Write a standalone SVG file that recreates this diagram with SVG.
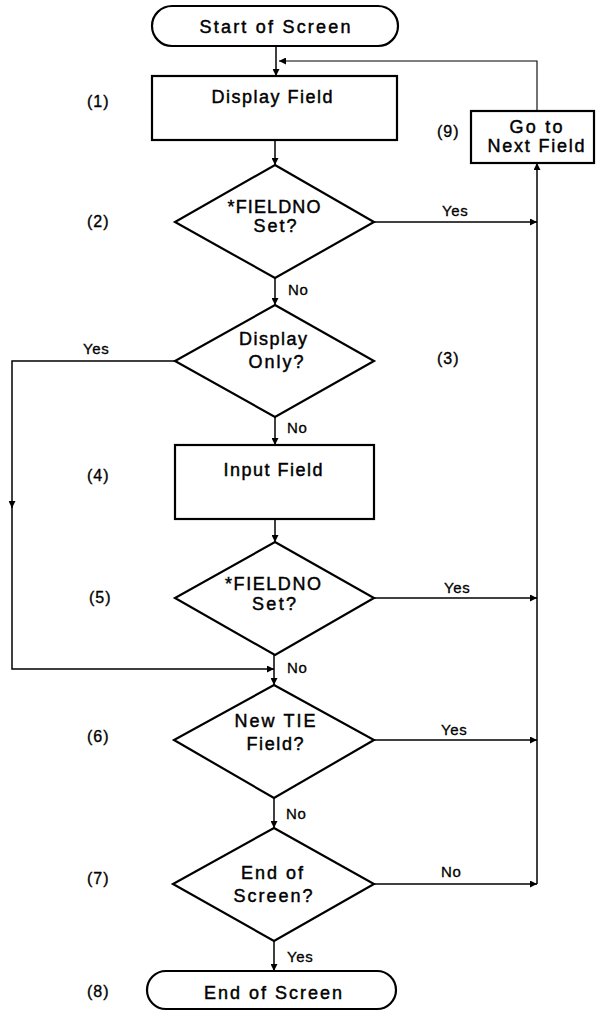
<svg xmlns="http://www.w3.org/2000/svg" width="596" height="1013" viewBox="0 0 596 1013">
<style>
.shape{fill:#fff;stroke:#000;stroke-width:2.2}
.t{font-family:"Liberation Sans",Arial,sans-serif;font-size:18px;fill:#000;stroke:#000;stroke-width:0.45;text-anchor:middle}
.lbl{font-family:"Liberation Sans",Arial,sans-serif;font-size:15px;fill:#000;stroke:#000;stroke-width:0.3;letter-spacing:0.6px}
.num{font-family:"Liberation Sans",Arial,sans-serif;font-size:16px;fill:#000;stroke:#000;stroke-width:0.35;letter-spacing:1px}
.c{fill:none;stroke:#000;stroke-width:1.5}
.thin{fill:none;stroke:#000;stroke-width:1.1}
</style>
<defs>
<marker id="ah" viewBox="0 0 10 10" refX="10" refY="5" markerWidth="9" markerHeight="7" markerUnits="userSpaceOnUse" orient="auto">
<path d="M0,0 L10,5 L0,10 z" fill="#000"/>
</marker>
</defs>
<g id="connectors">
<line class="c" x1="276" y1="46" x2="276" y2="76" marker-end="url(#ah)"/>
<polyline class="thin" points="537,111 537,61 279,61" marker-end="url(#ah)"/>
<line class="c" x1="275" y1="140" x2="275" y2="165" marker-end="url(#ah)"/>
<line class="c" x1="374" y1="222" x2="537" y2="222" marker-end="url(#ah)"/>
<line class="c" x1="275" y1="278" x2="275" y2="305" marker-end="url(#ah)"/>
<polyline class="c" points="175,361 12,361 12,508" marker-end="url(#ah)"/>
<polyline class="c" points="12,505 12,669 274,669" marker-end="url(#ah)"/>
<line class="c" x1="275" y1="417" x2="275" y2="445" marker-end="url(#ah)"/>
<line class="c" x1="275" y1="519" x2="275" y2="542" marker-end="url(#ah)"/>
<line class="c" x1="374" y1="598" x2="537" y2="598" marker-end="url(#ah)"/>
<line class="c" x1="274" y1="655" x2="274" y2="685" marker-end="url(#ah)"/>
<line class="c" x1="374" y1="740" x2="537" y2="740" marker-end="url(#ah)"/>
<line class="c" x1="274" y1="798" x2="274" y2="828" marker-end="url(#ah)"/>
<line class="c" x1="374" y1="884" x2="537" y2="884" marker-end="url(#ah)"/>
<line class="c" x1="537" y1="884" x2="537" y2="163" marker-end="url(#ah)"/>
<line class="c" x1="274" y1="941" x2="274" y2="971" marker-end="url(#ah)"/>
<text class="lbl" x="442" y="216">Yes</text>
<text class="lbl" x="288" y="295">No</text>
<text class="lbl" x="83" y="354">Yes</text>
<text class="lbl" x="287" y="433">No</text>
<text class="lbl" x="444" y="593">Yes</text>
<text class="lbl" x="287" y="673">No</text>
<text class="lbl" x="441" y="735">Yes</text>
<text class="lbl" x="286" y="819">No</text>
<text class="lbl" x="441" y="877">No</text>
<text class="lbl" x="287" y="962">Yes</text>
</g>
<g id="start">
<rect class="shape" x="152" y="6" width="246" height="40" rx="20"/>
<text class="t" x="275" y="33" textLength="151" lengthAdjust="spacing">Start of Screen</text>
</g>
<g id="display-field">
<rect class="shape" x="152" y="76" width="245" height="64"/>
<text class="t" x="272" y="103" textLength="121" lengthAdjust="spacing">Display Field</text>
<text class="num" x="87" y="107">(1)</text>
</g>
<g id="next-field">
<rect class="shape" x="471" y="111" width="123" height="52"/>
<text class="t" x="536" y="133" textLength="53" lengthAdjust="spacing">Go to</text>
<text class="t" x="536" y="152" textLength="97" lengthAdjust="spacing">Next Field</text>
<text class="num" x="437" y="137">(9)</text>
</g>
<g id="fieldno-1">
<polygon class="shape" points="275,165 374,222 275,278 175,222"/>
<text class="t" x="274" y="213" textLength="93" lengthAdjust="spacing">*FIELDNO</text>
<text class="t" x="275" y="232" textLength="43" lengthAdjust="spacing">Set?</text>
<text class="num" x="87" y="227">(2)</text>
</g>
<g id="display-only">
<polygon class="shape" points="275,305 374,361 275,417 175,361"/>
<text class="t" x="273" y="345" textLength="68" lengthAdjust="spacing">Display</text>
<text class="t" x="276" y="368" textLength="55" lengthAdjust="spacing">Only?</text>
<text class="num" x="437" y="364">(3)</text>
</g>
<g id="input-field">
<rect class="shape" x="175" y="445" width="199" height="74"/>
<text class="t" x="273" y="476" textLength="99" lengthAdjust="spacing">Input Field</text>
<text class="num" x="87" y="481">(4)</text>
</g>
<g id="fieldno-2">
<polygon class="shape" points="275,542 374,598 275,655 175,598"/>
<text class="t" x="273" y="590" textLength="96" lengthAdjust="spacing">*FIELDNO</text>
<text class="t" x="274" y="610" textLength="44" lengthAdjust="spacing">Set?</text>
<text class="num" x="89" y="603">(5)</text>
</g>
<g id="new-tie">
<polygon class="shape" points="274,685 374,740 274,798 174,740"/>
<text class="t" x="275" y="727" textLength="81" lengthAdjust="spacing">New TIE</text>
<text class="t" x="275" y="750" textLength="57" lengthAdjust="spacing">Field?</text>
<text class="num" x="87" y="742">(6)</text>
</g>
<g id="end-check">
<polygon class="shape" points="274,828 374,884 274,941 173,884"/>
<text class="t" x="272" y="879" textLength="62" lengthAdjust="spacing">End of</text>
<text class="t" x="273" y="902" textLength="79" lengthAdjust="spacing">Screen?</text>
<text class="num" x="87" y="884">(7)</text>
</g>
<g id="end">
<rect class="shape" x="147" y="971" width="249" height="38" rx="19"/>
<text class="t" x="273" y="999" textLength="138" lengthAdjust="spacing">End of Screen</text>
<text class="num" x="87" y="997">(8)</text>
</g>
</svg>
